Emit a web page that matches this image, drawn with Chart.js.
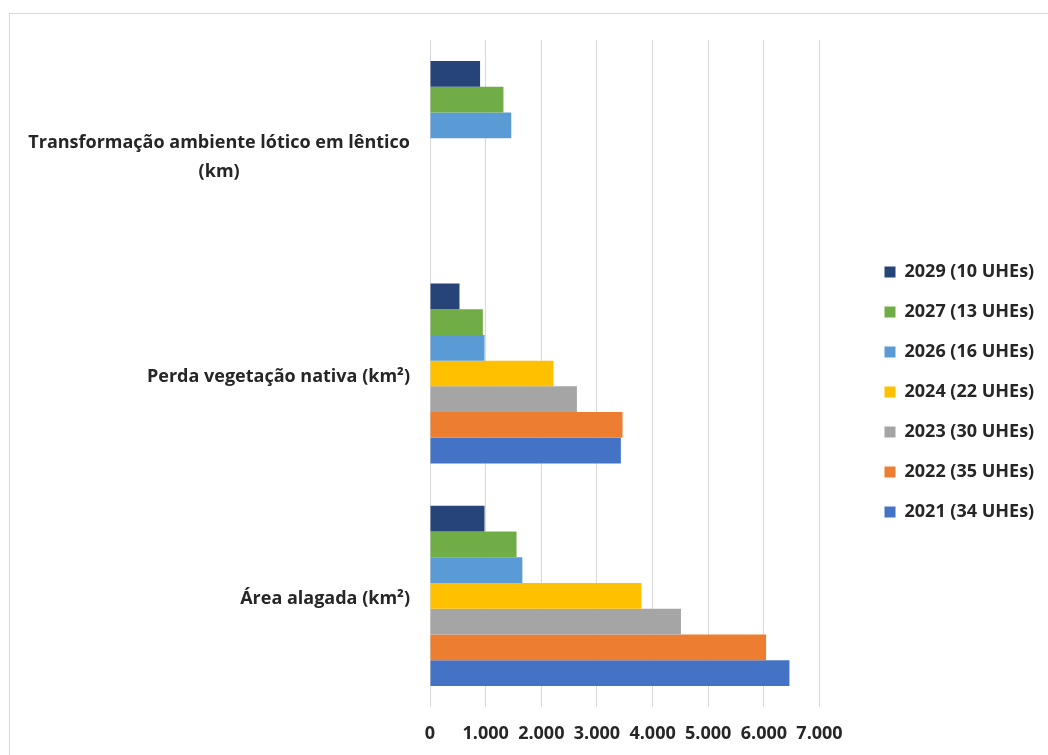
<!DOCTYPE html>
<html>
<head>
<meta charset="utf-8">
<script src="https://cdn.jsdelivr.net/npm/chart.js@4.4.0/dist/chart.umd.min.js"></script>
<style>
body{margin:0;background:#fff;overflow:hidden}
#frame{position:absolute;left:9px;top:13px;width:1100px;height:800px;border:1px solid #d9d9d9}
#wrap{position:absolute;left:0;top:0;width:1048px;height:755px}
</style>
</head>
<body>
<div id="frame"></div>
<div id="wrap"><canvas id="myChart" width="1048" height="755"></canvas></div>
<script>
// categorias (de cima para baixo)
var categories = [
	['Transformação ambiente lótico em lêntico', '(km)'],
	'Perda vegetação nativa (km²)',
	'Área alagada (km²)'
];
var seriesNames = ['2029 (10 UHEs)','2027 (13 UHEs)','2026 (16 UHEs)','2024 (22 UHEs)','2023 (30 UHEs)','2022 (35 UHEs)','2021 (34 UHEs)'];
var v2029 = [900, 530, 980];
var v2027 = [1320, 950, 1555];
var v2026 = [1460, 980, 1660];
var v2024 = [null, 2220, 3800];
var v2023 = [null, 2640, 4510];
var v2022 = [null, 3460, 6040];
var v2021 = [null, 3430, 6460];
var seriesColors = ['#264478','#70AD47','#5B9BD5','#FFC000','#A5A5A5','#ED7D31','#4472C4'];
var xTicks = [0,1000,2000,3000,4000,5000,6000,7000];

var textColor = '#262626';
var fontFamily = '"Open Sans", sans-serif';

function fmt(v){
	return String(v).replace(/\B(?=(\d{3})+(?!\d))/g, '.');
}

var allValues = [v2029, v2027, v2026, v2024, v2023, v2022, v2021];
var datasets = allValues.map(function(vals, i){
	return {
		label: seriesNames[i],
		data: vals,
		backgroundColor: seriesColors[i],
		borderWidth: 0,
		categoryPercentage: 0.81,
		barPercentage: 1.0
	};
});

// rótulos do eixo y (linhas centradas entre si)
var yLabelPlugin = {
	id: 'yLabels',
	afterDraw: function(chart){
		var sc = chart.scales.y, ctx = chart.ctx;
		ctx.save();
		ctx.font = 'bold 18px ' + fontFamily;
		ctx.fillStyle = textColor;
		ctx.textBaseline = 'middle';
		ctx.textAlign = 'center';
		var right = sc.right - 20;
		categories.forEach(function(lab, i){
			var lines = [].concat(lab);
			var w = Math.max.apply(null, lines.map(function(s){ return ctx.measureText(s).width; }));
			var y0 = sc.getPixelForTick(i) + 3 + (lines.length - 1) * 3 - (lines.length - 1) * 29 / 2;
			lines.forEach(function(s, k){ ctx.fillText(s, right - w / 2, y0 + k * 29); });
		});
		ctx.restore();
	}
};

Chart.defaults.font.family = fontFamily;
Chart.defaults.font.size = 18;
Chart.defaults.font.weight = 'bold';
Chart.defaults.color = textColor;

var ctx1 = document.getElementById('myChart').getContext('2d');
var myChart = new Chart(ctx1, {
	type: 'bar',
	data: { labels: categories, datasets: datasets },
	plugins: [yLabelPlugin],
	options: {
		indexAxis: 'y',
		responsive: false,
		animation: false,
		layout: { padding: { left: 0, top: 40, right: 13, bottom: 11 } },
		plugins: {
			tooltip: { enabled: false },
			legend: {
				position: 'right',
				align: 'center',
				labels: {
					boxWidth: 11,
					boxHeight: 11,
					padding: 22,
					font: { size: 18, weight: 'bold' }
				}
			}
		},
		scales: {
			x: {
				min: 0,
				max: 7000,
				afterBuildTicks: function(s){ s.ticks = xTicks.map(function(v){ return {value: v}; }); },
				afterFit: function(s){ s.height = 37; },
				ticks: { padding: 16, callback: function(v){ return fmt(v); }, maxRotation: 0 },
				grid: { color: '#d9d9d9', drawTicks: false },
				border: { display: false }
			},
			y: {
				afterFit: function(s){ s.width = 430; },
				ticks: { display: false },
				grid: { display: false, drawTicks: false },
				border: { display: false }
			},
			// espaço vazio entre a área do gráfico e a legenda
			gap: {
				type: 'linear',
				position: 'right',
				afterFit: function(s){ s.width = 43; },
				ticks: { display: false },
				grid: { display: false, drawTicks: false },
				border: { display: false }
			}
		}
	}
});
</script>
</body>
</html>
